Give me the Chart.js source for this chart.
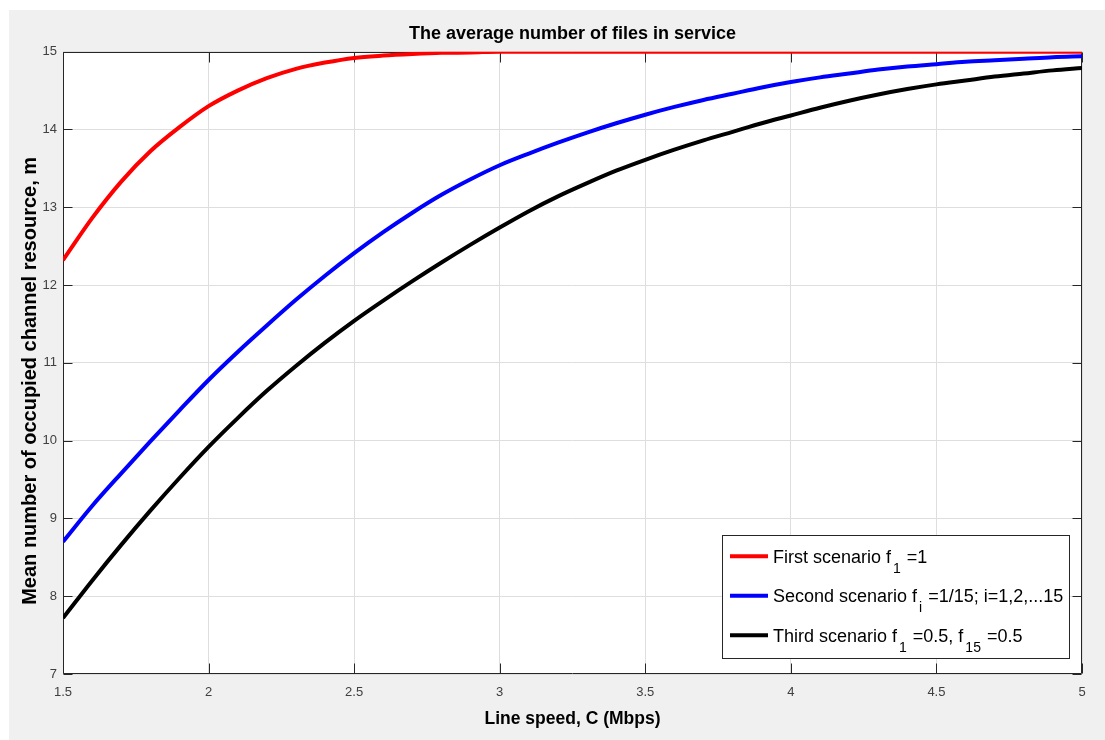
<!DOCTYPE html>
<html><head><meta charset="utf-8">
<script src="https://cdn.jsdelivr.net/npm/chart.js@4/dist/chart.umd.min.js"></script>
<style>html,body{margin:0;padding:0;background:#fff;overflow:hidden;} #c{position:absolute;left:0;top:0;}</style>
</head><body>
<canvas id="c" width="1105" height="740"></canvas>
<script>
const titleText = 'The average number of files in service';
const xAxisTitle = 'Line speed, C (Mbps)';
const yAxisTitle = 'Mean number of occupied channel resource, m';

const lineSpeed = [1.5,1.6,1.7,1.8,1.9,2.0,2.1,2.2,2.3,2.4,2.5,2.6,2.7,2.8,2.9,3.0,3.1,3.2,3.3,3.4,3.5,3.6,3.7,3.8,3.9,4.0,4.1,4.2,4.3,4.4,4.5,4.6,4.7,4.8,4.9,5.0];
const firstScenario = [12.32,12.86,13.33,13.72,14.03,14.30,14.50,14.66,14.78,14.86,14.92,14.95,14.97,14.985,14.99,15,15,15,15,15,15,15,15,15,15,15,15,15,15,15,15,15,15,15,15,15];
const secondScenario = [8.70,9.16,9.58,9.99,10.39,10.78,11.14,11.48,11.81,12.12,12.41,12.68,12.93,13.16,13.36,13.54,13.69,13.83,13.96,14.08,14.19,14.29,14.38,14.46,14.54,14.61,14.67,14.72,14.77,14.81,14.84,14.87,14.89,14.91,14.93,14.94];
const thirdScenario = [7.72,8.20,8.66,9.10,9.52,9.92,10.29,10.64,10.96,11.26,11.54,11.80,12.05,12.29,12.52,12.74,12.95,13.14,13.31,13.47,13.61,13.74,13.86,13.97,14.08,14.18,14.28,14.37,14.45,14.52,14.58,14.63,14.68,14.72,14.76,14.79];

const seriesNames = ['First scenario f_{1} =1', 'Second scenario f_{i} =1/15; i=1,2,...15', 'Third scenario f_{1} =0.5, f_{15} =0.5'];
const seriesColors = ['#ff0000', '#0000ff', '#000000'];

const xTickValues = [1.5,2,2.5,3,3.5,4,4.5,5];
const xTickLabels = ['1.5','2','2.5','3','3.5','4','4.5','5'];
const yTickValues = [7,8,9,10,11,12,13,14,15];
const yTickLabels = ['7','8','9','10','11','12','13','14','15'];

const FONT = '"Liberation Sans", Arial, Helvetica, sans-serif';

function toPoints(ys){ return lineSpeed.map((x,i)=>({x:x, y:ys[i]})); }
function plainName(s){ return s.replace(/_\{([^}]*)\}/g, '$1'); }
function parseParts(s){
  const parts = s.split(/_\{([^}]*)\}/);
  return parts.map((t,i)=>({text:t, sub: i%2===1})).filter(p=>p.text.length);
}

const backgroundPlugin = {
  id: 'figureBg',
  beforeDraw(chart){
    const {ctx, chartArea:ca} = chart;
    ctx.save();
    ctx.fillStyle = '#f0f0f0';
    ctx.fillRect(9, 10, chart.width - 9, chart.height - 10);
    ctx.fillStyle = '#ffffff';
    ctx.fillRect(ca.left, ca.top, ca.right - ca.left, ca.bottom - ca.top);
    ctx.restore();
  }
};

const boxPlugin = {
  id: 'matlabBox',
  beforeDatasetsDraw(chart){
    const {ctx, chartArea:ca, scales} = chart;
    ctx.save();
    ctx.strokeStyle = '#262626';
    ctx.lineWidth = 1;
    ctx.beginPath();
    const L = Math.round(ca.left)+0.5, R = Math.round(ca.right)-0.5, T = Math.round(ca.top)+0.5, B = Math.round(ca.bottom)-0.5;
    ctx.rect(L, T, R-L, B-T);
    scales.x.ticks.forEach(t=>{
      const px = Math.round(scales.x.getPixelForValue(t.value))+0.5;
      ctx.moveTo(px, B); ctx.lineTo(px, B-10);
      ctx.moveTo(px, T); ctx.lineTo(px, T+10);
    });
    scales.y.ticks.forEach(t=>{
      const py = Math.round(scales.y.getPixelForValue(t.value))+0.5;
      ctx.moveTo(L, py); ctx.lineTo(L+9, py);
      ctx.moveTo(R, py); ctx.lineTo(R-9, py);
    });
    ctx.stroke();
    ctx.restore();
  }
};

const yTitlePlugin = {
  id: 'yTitle',
  afterDraw(chart){
    const {ctx, chartArea:ca} = chart;
    ctx.save();
    ctx.translate(30, (ca.top + ca.bottom)/2 + 18);
    ctx.rotate(-Math.PI/2);
    ctx.font = 'bold 20px ' + FONT;
    ctx.fillStyle = '#000';
    ctx.textAlign = 'center';
    ctx.textBaseline = 'middle';
    ctx.fillText(yAxisTitle, 0, 0);
    ctx.restore();
  }
};

const legendPlugin = {
  id: 'matlabLegend',
  afterDatasetsDraw(chart){
    const {ctx, chartArea:ca} = chart;
    const w = 347, h = 123;
    const bx = ca.right - 13 - w, by = ca.bottom - 16 - h;
    ctx.save();
    ctx.fillStyle = '#ffffff';
    ctx.fillRect(bx, by, w, h);
    ctx.strokeStyle = '#262626';
    ctx.lineWidth = 1;
    ctx.strokeRect(Math.round(bx)+0.5, Math.round(by)+0.5, w, h);
    chart.data.datasets.forEach((ds, i)=>{
      const base = by + 27.7 + i*39.5;
      const ly = base - 6.5;
      ctx.strokeStyle = ds.borderColor;
      ctx.lineWidth = 4;
      ctx.beginPath(); ctx.moveTo(bx+8, ly); ctx.lineTo(bx+46, ly); ctx.stroke();
      let x = bx + 51;
      ctx.fillStyle = '#000';
      ctx.textBaseline = 'alphabetic';
      ctx.textAlign = 'left';
      parseParts(seriesNames[i]).forEach(p=>{
        if (p.sub){
          ctx.font = '14px ' + FONT;
          x += 2;
          ctx.fillText(p.text, x, base + 10);
          x += ctx.measureText(p.text).width + 1;
        } else {
          ctx.font = '18px ' + FONT;
          ctx.fillText(p.text, x, base);
          x += ctx.measureText(p.text).width;
        }
      });
    });
    ctx.restore();
  }
};

const datasets = [firstScenario, secondScenario, thirdScenario].map((ys, i)=>({
  label: plainName(seriesNames[i]),
  data: toPoints(ys),
  borderColor: seriesColors[i],
  backgroundColor: seriesColors[i],
  borderWidth: 4,
  pointRadius: 0,
  cubicInterpolationMode: 'monotone',
  fill: false
}));

new Chart(document.getElementById('c'), {
  type: 'line',
  data: { datasets },
  plugins: [backgroundPlugin, boxPlugin, legendPlugin, yTitlePlugin],
  options: {
    responsive: false,
    devicePixelRatio: 1,
    animation: false,
    layout: { padding: { left: 0, right: 23, top: 0, bottom: 0 } },
    plugins: {
      legend: { display: false },
      tooltip: { enabled: false },
      title: {
        display: true, text: titleText, fullSize: false, color: '#000',
        font: { family: FONT, size: 18, weight: 'bold' },
        padding: { top: 23.2, bottom: 6.9 }
      }
    },
    scales: {
      x: {
        type: 'linear', min: 1.5, max: 5,
        afterFit(scale){ scale.height = 66; },
        afterBuildTicks(scale){ scale.ticks = xTickValues.map(v=>({value:v})); },
        ticks: {
          callback: (v)=>{ const i = xTickValues.indexOf(v); return i>=0 ? xTickLabels[i] : ''; },
          color: '#404040', font: { family: FONT, size: 13 }, padding: 11, maxRotation: 0, autoSkip: false
        },
        grid: { color: '#dedede', lineWidth: 1, drawTicks: false },
        border: { display: false },
        title: { display: true, text: xAxisTitle, color: '#000', font: { family: FONT, size: 17.5, weight: 'bold' }, padding: { top: 0, bottom: 10.5 } }
      },
      y: {
        type: 'linear', min: 7, max: 15,
        afterFit(scale){ scale.width = 63; },
        afterBuildTicks(scale){ scale.ticks = yTickValues.map(v=>({value:v})); },
        ticks: {
          callback: (v)=>{ const i = yTickValues.indexOf(v); return i>=0 ? yTickLabels[i] : ''; },
          color: '#404040', font: { family: FONT, size: 13 }, padding: 6, autoSkip: false
        },
        grid: { color: '#dedede', lineWidth: 1, drawTicks: false },
        border: { display: false },
        title: { display: false }
      }
    }
  }
});
</script>
</body></html>
